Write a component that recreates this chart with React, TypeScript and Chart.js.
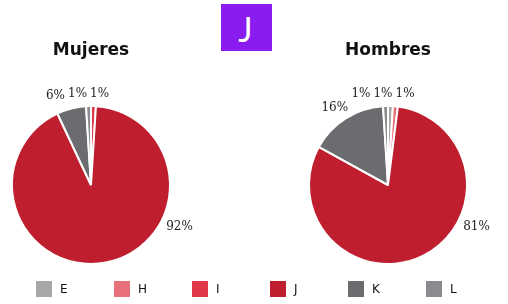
import React, { useEffect, useRef } from 'react';
import { Chart, registerables } from 'chart.js';

Chart.register(...registerables);

const categories = ['E', 'H', 'I', 'J', 'K', 'L'];
const mujeresValues = [0, 0, 1, 92, 6, 1];
const hombresValues = [1, 1, 0, 81, 16, 1];
const panelTitles = ['Mujeres', 'Hombres'];
const headerLabel = 'J';
const sliceColors = ['#a7a7aa', '#e8707a', '#e0394a', '#be1e2d', '#6b6c70', '#8b8b8f'];

const pieLabelPlugin = {
  id: 'pieLabels',
  afterDatasetsDraw(chart: any, _args: any, opts: any) {
    const ctx = chart.ctx;
    const meta = chart.getDatasetMeta(0);
    const values = chart.data.datasets[0].data as number[];
    const total = values.reduce((a, b) => a + b, 0);
    ctx.save();
    ctx.font = opts.font;
    const labels: any[] = [];
    meta.data.forEach((arc: any, i: number) => {
      const v = values[i];
      if (!v) return;
      const p = arc.getProps(['x', 'y', 'startAngle', 'endAngle', 'outerRadius'], true);
      const frac = v / total;
      let a = (p.startAngle + p.endAngle) / 2 + Math.PI / 2;
      if (frac > 0.5) a = (opts.largeAngle * Math.PI) / 180;
      const text = Math.round(frac * 100) + '%';
      const w = ctx.measureText(text).width;
      const h = opts.height;
      const r = p.outerRadius + opts.offset;
      const x = p.x + Math.sin(a) * r + (Math.sin(a) * w) / 2;
      const y = p.y - Math.cos(a) * r - (Math.cos(a) * h) / 2;
      labels.push({ text, w, h, x, y, a, ideal: x });
    });
    const upper = labels.filter((l) => Math.cos(l.a) > 0.3).sort((l1, l2) => l2.x - l1.x);
    // right-anchored push to the left, grouping overlapping labels into clusters
    const clusters: any[][] = [];
    for (let i = 0; i < upper.length; i++) {
      const cur = upper[i];
      let joined: any[] | null = null;
      for (let j = 0; j < i; j++) {
        const prev = upper[j];
        const needX = (prev.w + cur.w) / 2 + opts.gap;
        const needY = (prev.h + cur.h) / 2;
        if (Math.abs(prev.y - cur.y) < needY && prev.x - cur.x < needX) {
          cur.x = prev.x - needX;
          joined = clusters.find((c) => c.includes(prev)) || null;
        }
      }
      if (joined) joined.push(cur);
      else clusters.push([cur]);
    }
    // balance each cluster halfway between its anchored and ideal positions
    clusters.forEach((c) => {
      if (c.length < 2) return;
      const idealMean = c.reduce((s, l) => s + l.ideal, 0) / c.length;
      const curMean = c.reduce((s, l) => s + l.x, 0) / c.length;
      const shift = (idealMean - curMean) / 2;
      c.forEach((l) => (l.x += shift));
    });
    ctx.fillStyle = opts.color;
    ctx.textAlign = 'center';
    ctx.textBaseline = 'middle';
    labels.forEach((l) => ctx.fillText(l.text, l.x, l.y));
    ctx.restore();
  },
};

function PiePanel({ title, values, padLeft, padRight, left }: any) {
  const ref = useRef<HTMLCanvasElement>(null);
  useEffect(() => {
    if (!ref.current) return;
    const chart = new Chart(ref.current, {
      type: 'pie',
      data: {
        labels: categories,
        datasets: [
          {
            data: values,
            backgroundColor: sliceColors,
            borderColor: '#ffffff',
            borderWidth: 2,
            hoverOffset: 0,
          },
        ],
      },
      options: {
        responsive: false,
        animation: false,
        events: [],
        layout: { padding: { left: padLeft, right: padRight, top: 0, bottom: 39 } },
        plugins: {
          legend: { display: false },
          tooltip: { enabled: false },
          title: {
            display: true,
            text: title,
            color: '#111111',
            font: { family: 'DejaVu Sans', size: 17, weight: 'bold' },
            padding: { top: 40, bottom: 44.6 },
          },
          pieLabels: {
            font: '12px "DejaVu Serif"',
            color: '#222222',
            height: 11,
            offset: 7,
            gap: 3,
            largeAngle: 117,
          },
        } as any,
      },
      plugins: [pieLabelPlugin],
    });
    return () => chart.destroy();
  }, []);
  return (
    <canvas
      ref={ref}
      width={254}
      height={304}
      style={{ position: 'absolute', left, top: 0, width: 254, height: 304 }}
    />
  );
}

export default function App() {
  return (
    <div
      style={{
        position: 'fixed',
        left: 0,
        top: 0,
        width: 508,
        height: 304,
        background: '#ffffff',
        overflow: 'hidden',
      }}
    >
      <PiePanel title={panelTitles[0]} values={mujeresValues} padLeft={11} padRight={83} left={0} />
      <PiePanel title={panelTitles[1]} values={hombresValues} padLeft={54} padRight={40} left={254} />
      <div
        style={{
          position: 'absolute',
          left: 221,
          top: 4,
          width: 51,
          height: 47,
          background: '#8a1cf0',
          color: '#ffffff',
          fontFamily: 'Lato',
          fontSize: 34,
          lineHeight: '47px',
          textAlign: 'center',
          paddingLeft: 0,
          boxSizing: 'border-box',
        }}
      >
        <span style={{ position: 'relative', top: 1, left: -1 }}>{headerLabel}</span>
      </div>
      <div
        style={{
          position: 'absolute',
          left: 36,
          top: 281,
          height: 16,
          display: 'flex',
          fontFamily: 'DejaVu Sans',
          fontSize: 12,
          color: '#111111',
        }}
      >
        {categories.map((c, i) => (
          <div key={c} style={{ display: 'flex', alignItems: 'center', height: 16, width: 78 }}>
            <div style={{ width: 16, height: 16, background: sliceColors[i], marginRight: 8 }} />
            <span style={{ lineHeight: '16px' }}>{c}</span>
          </div>
        ))}
      </div>
    </div>
  );
}
